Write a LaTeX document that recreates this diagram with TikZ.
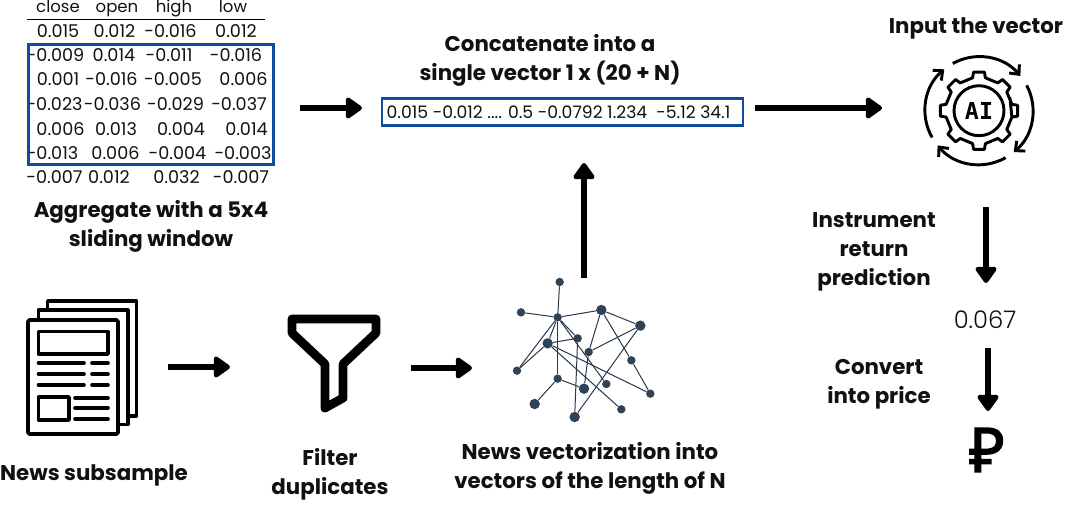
\documentclass[tikz,border=0pt]{standalone}
\usepackage{fontspec}
\setmainfont{Poppins}
\newfontfamily\lightf{Poppins Light}
\newfontfamily\rublef[FakeBold=2.5]{Noto Sans}
\newfontfamily\aifont{DejaVu Sans Mono}
\usetikzlibrary{arrows.meta}
\definecolor{winblue}{HTML}{0F4C9C}
\definecolor{netcol}{HTML}{2F4256}
\definecolor{ink}{HTML}{111111}
\tikzset{
 cell/.style={anchor=base,inner sep=0pt,text=ink,font=\fontsize{13.2}{15}\selectfont},
 headcell/.style={anchor=base,inner sep=0pt,text=ink,font=\fontsize{12.4}{14}\selectfont},
 title/.style={anchor=center,inner sep=0pt,align=center,text=ink,font=\fontsize{16}{21.6}\selectfont\bfseries},
 winbox/.style={draw=winblue,line width=1.9pt},
 flow/.style={line width=4pt,black,-{Triangle[round,length=13.5pt,width=18pt]}},
 paper/.style={line width=2.7pt,black,line join=round,line cap=round},
 netedge/.style={line width=0.75pt,netcol!85!black},
 bignode/.style={circle,fill=netcol,inner sep=0pt,minimum size=7.8pt},
 smallnode/.style={circle,fill=netcol,inner sep=0pt,minimum size=6.3pt},
 iconline/.style={line width=2.2pt,black,line join=round,line cap=round},
 cyc/.style={line width=2.2pt,black,-{Straight Barb[length=5.5pt,width=10pt,line width=2.2pt]}}
}
\begin{document}
\begin{tikzpicture}[x=0.75pt,y=-0.75pt]
\useasboundingbox (0,0) rectangle (1071,510);
% table header
\foreach \x/\s [count=\i] in {58/close,117/open,174/high,233/low}
  \node[headcell] (h\i) at (\x,13) {\s};
\coordinate (ruleL) at (27,19.5);
\coordinate (ruleR) at (265,19.5);
\draw[line width=0.8pt,black] (ruleL) -- (ruleR);
% table body
\foreach \x/\y/\s [count=\i] in {
 58/38/0.015,114.5/38/0.012,170.5/38/-0.016,236/38/0.012,
 55.5/62/-0.009,114/62/0.014,169/62/-0.011,236/62/-0.016,
 58/86/0.001,111.5/86/-0.016,173/86/-0.005,243.5/86/0.006,
 54.5/111/-0.023,112.5/111/-0.036,175.5/111/-0.029,239/111/-0.037,
 60.5/135/0.006,116/135/0.013,181/135/0.004,246.5/135/0.014,
 52.5/159/-0.013,115.5/159/0.006,177.5/159/-0.004,243/159/-0.003,
 54.5/183/-0.007,109/183/0.012,176.5/183/0.032,241/183/-0.007}
  \node[cell] (t\i) at (\x,\y) {\s};
\node[winbox,minimum width=184pt,minimum height=90pt,inner sep=0pt] (window) at (151,104.5) {};
\node[title] (agg) at (151,226) {Aggregate with a 5x4\\sliding window};
% vector
\node[title] (conc) at (550,60) {Concatenate into a\\single vector 1 x (20 + N)};
\node[winbox,minimum width=271pt,minimum height=20.5pt,inner sep=0pt] (vec) at (562.5,112) {};
\node[anchor=center,inner sep=0pt,text=ink,font=\fontsize{12.9}{15}\selectfont] (vectxt) at (558.5,112) {0.015 -0.012 .... 0.5 -0.0792 1.234\ \ -5.12 34.1};
% right column
\node[title] (input) at (976,28) {Input the vector};
\node[title] (instr) at (874,252) {Instrument\\return\\prediction};
\node[anchor=base,inner sep=0pt,text=ink,font=\fontsize{18.2}{20}\selectfont\lightf] (pred) at (985,328) {0.067};
\node[title] (convert) at (879,384) {Convert\\into price};
\node[anchor=center,inner sep=0pt,font=\fontsize{46}{50}\selectfont\rublef] (rub) at (987,450) {₽};
% bottom labels
\node[title] (newsl) at (94,475) {News subsample};
\node[title] (filt) at (330,474) {Filter\\duplicates};
\node[title] (vecl) at (590,468) {News vectorization into\\vectors of the length of N};
% newspaper
\draw[paper,line width=2.4pt] (47.7,310) -- (47.7,301) -- (136.7,301) -- (136.7,416) -- (128,416);
\draw[paper,line width=2.4pt] (38.3,320) -- (38.3,310) -- (128,310) -- (128,424.5) -- (118,424.5);
\node[draw,paper,minimum width=67.5pt,minimum height=85.5pt,inner sep=0pt,rounded corners=1pt] (news) at (73,377) {};
\draw[paper] (38.5,331.5) rectangle (108,354);
\draw[paper] (38.5,397) rectangle (69,420);
\foreach \y in {363,374,385} {
  \draw[paper] (38.5,\y) -- (84,\y);
  \draw[paper] (92,\y) -- (108,\y);
}
\foreach \y in {398,408,419}
  \draw[paper] (75,\y) -- (108,\y);
% funnel
\draw[line width=6.6pt,black,line join=round] (292,319) -- (376,319) -- (376,333) -- (343,364) -- (343,398) -- (325,408) -- (325,364) -- (292,333) -- cycle;
% network
\begin{scope}[shift={(490,260)},x=0.25pt,y=-0.25pt]
\foreach \n/\x/\y/\k in {n1/209/66/smallnode,n2/93/157/smallnode,n3/203/172/smallnode,n4/334/150/bignode,n5/451/197/bignode,n6/263/235/smallnode,n7/173/250/bignode,n8/296/276/smallnode,n9/424/301/smallnode,n10/81/332/smallnode,n11/203/356/smallnode,n12/282/386/bignode,n13/349/372/smallnode,n14/481/401/smallnode,n15/134/432/bignode,n16/394/448/smallnode,n17/254/471/bignode}
  \node[\k] (\n) at (\x,\y) {};
\foreach \a/\b in {n1/n3,n2/n3,n3/n4,n3/n7,n3/n10,n7/n10,n3/n6,n7/n6,n3/n11,n3/n13,n4/n8,n4/n5,n4/n9,n5/n8,n5/n17,n9/n14,n7/n14,n7/n16,n6/n17,n8/n12,n11/n12,n11/n15}
  \draw[netedge] (\a) -- (\b);
\end{scope}
% AI icon
\begin{scope}[shift={(979,110.7)},y=0.75pt]
\node[circle,draw,iconline,minimum size=37.5pt,inner sep=0pt] (aicirc) at (0,0) {};
\node[inner sep=0pt,font=\fontsize{17.5}{18}\selectfont\aifont\bfseries] (ai) at (0,0) {AI};
\draw[iconline] (22.5:33.5)
 \foreach \a in {0,45,...,315} {
   -- (\a-11:33.5) -- (\a-8:39) -- (\a+8:39) -- (\a+11:33.5) -- (\a+34:33.5)
 } -- cycle;
\draw[cyc] (119:54) arc[start angle=119,end angle=40,radius=54];
\draw[cyc] (28:54) arc[start angle=28,end angle=-50,radius=54];
\draw[cyc] (-60.5:54) arc[start angle=-60.5,end angle=-140,radius=54];
\draw[cyc] (209.7:54) arc[start angle=209.7,end angle=130,radius=54];
\end{scope}
% connectors
\coordinate (a1s) at (300,108); \coordinate (a1e) at (362,108);
\coordinate (a2s) at (584,278); \coordinate (a2e) at (584,163);
\coordinate (a3s) at (755,108); \coordinate (a3e) at (882,108);
\coordinate (a4s) at (986,207); \coordinate (a4e) at (986,283);
\coordinate (a5s) at (988,348); \coordinate (a5e) at (988,411);
\coordinate (a6s) at (168,367); \coordinate (a6e) at (230,367);
\coordinate (a7s) at (411,368); \coordinate (a7e) at (472,368);
\foreach \s/\e in {a1s/a1e,a2s/a2e,a3s/a3e,a4s/a4e,a5s/a5e,a6s/a6e,a7s/a7e}
  \draw[flow] (\s) -- (\e);
\end{tikzpicture}
\end{document}
